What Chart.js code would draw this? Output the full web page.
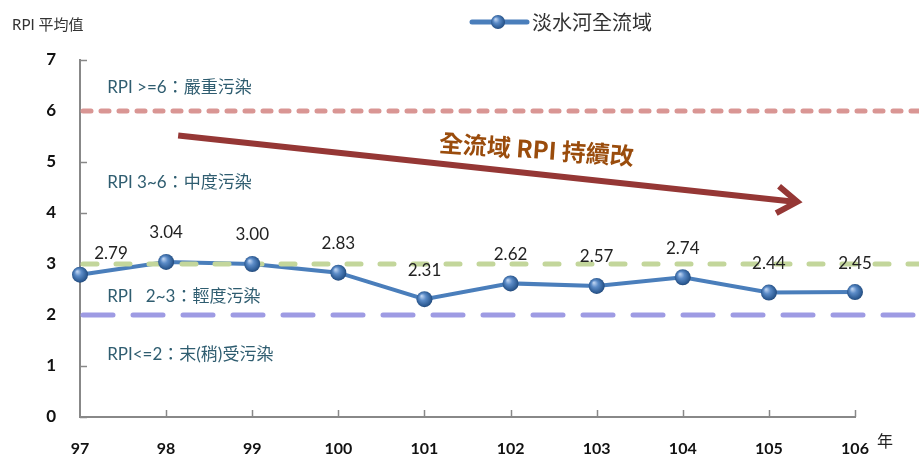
<!DOCTYPE html>
<html>
<head>
<meta charset="utf-8">
<script src="https://cdn.jsdelivr.net/npm/chart.js@4.4.0/dist/chart.umd.min.js"></script>
<style>
  html, body { margin: 0; padding: 0; background: #fff; }
  #wrap { width: 919px; height: 456px; }
</style>
</head>
<body>
<div id="wrap"><canvas id="rpiChart" width="919" height="456"></canvas></div>
<script>
// ---- data ----
const years = ['97', '98', '99', '100', '101', '102', '103', '104', '105', '106'];
const rpiValues = [2.79, 3.04, 3.00, 2.83, 2.31, 2.62, 2.57, 2.74, 2.44, 2.45];
const yTicks = [0, 1, 2, 3, 4, 5, 6, 7];
const seriesName = '淡水河全流域';

// pollution level thresholds and their captions
const levelValues = [6, 3, 2];
const levelColors = ['#d99694', '#c3d69b', '#9e9be3'];
const levelDashes = [[8, 10], [14, 19], [30, 20]];
const bandTexts = ['RPI >=6：嚴重污染', 'RPI 3~6：中度污染', 'RPI   2~3：輕度污染', 'RPI<=2：末(稍)受污染'];
const bandTextAt = [6.47, 4.59, 2.37, 1.22];

const FONT = "Lato, 'Noto Sans CJK TC', sans-serif";
const CJK = "'Noto Sans CJK TC', 'Noto Sans CJK SC', sans-serif";

function drawSphere(ctx, x, y, r) {
    const g = ctx.createRadialGradient(x - r * 0.35, y - r * 0.4, 0.5, x, y, r + 1);
    g.addColorStop(0, '#b9d0ef');
    g.addColorStop(0.35, '#5b8bc7');
    g.addColorStop(0.8, '#2c5a92');
    g.addColorStop(1, '#1d3c66');
    ctx.beginPath();
    ctx.arc(x, y, r, 0, Math.PI * 2);
    ctx.fillStyle = g;
    ctx.fill();
}

const extras = {
    id: 'extras',
    afterDatasetsDraw(chart) {
        const ctx = chart.ctx;
        const xs = chart.scales.x, ys = chart.scales.y;
        const area = chart.chartArea;
        ctx.save();

        // inner tick marks
        ctx.strokeStyle = '#888';
        ctx.lineWidth = 1.5;
        yTicks.forEach(v => {
            const py = Math.round(ys.getPixelForValue(v)) + 0.5;
            ctx.beginPath(); ctx.moveTo(area.left, py); ctx.lineTo(area.left + 7, py); ctx.stroke();
        });
        years.forEach((y, i) => {
            if (i === 0) return;
            const px = Math.round(xs.getPixelForValue(i)) + 0.5;
            ctx.beginPath(); ctx.moveTo(px, area.bottom); ctx.lineTo(px, area.bottom - 7); ctx.stroke();
        });

        // threshold lines, running out to the canvas edge
        levelValues.forEach((v, i) => {
            const py = ys.getPixelForValue(v);
            ctx.beginPath();
            ctx.setLineDash(levelDashes[i]);
            ctx.lineCap = 'round';
            ctx.lineWidth = 5;
            ctx.strokeStyle = levelColors[i];
            ctx.moveTo(area.left + 3, py);
            ctx.lineTo(chart.width + 10, py);
            ctx.stroke();
        });
        ctx.setLineDash([]);
        ctx.lineCap = 'butt';

        // markers
        const meta = chart.getDatasetMeta(0);
        meta.data.forEach(pt => drawSphere(ctx, pt.x, pt.y, 8));

        // value labels
        ctx.font = '17px ' + FONT;
        ctx.fillStyle = '#222';
        ctx.textAlign = 'center';
        ctx.textBaseline = 'middle';
        meta.data.forEach((pt, i) => {
            const dx = i === 0 ? 31 : 0;
            const dy = i === 0 ? -21 : -29;
            ctx.fillText(rpiValues[i].toFixed(2), pt.x + dx, pt.y + dy);
        });

        // band captions
        ctx.font = '17px ' + FONT;
        ctx.fillStyle = '#2f5d70';
        ctx.textAlign = 'left';
        bandTexts.forEach((t, i) => {
            ctx.fillText(t, xs.getPixelForValue(0.315), ys.getPixelForValue(bandTextAt[i]));
        });

        // trend arrow
        const x0 = xs.getPixelForValue(1.14), y0 = ys.getPixelForValue(5.52);
        const x1 = xs.getPixelForValue(8.33), y1 = ys.getPixelForValue(4.22);
        const ang = Math.atan2(y1 - y0, x1 - x0);
        ctx.strokeStyle = '#953735';
        ctx.lineWidth = 6;
        ctx.beginPath(); ctx.moveTo(x0, y0); ctx.lineTo(x1 - 3, y1); ctx.stroke();
        ctx.lineJoin = 'miter';
        ctx.beginPath();
        ctx.moveTo(x1 - 24 * Math.cos(ang - 0.6), y1 - 24 * Math.sin(ang - 0.6));
        ctx.lineTo(x1, y1);
        ctx.lineTo(x1 - 24 * Math.cos(ang + 0.6), y1 - 24 * Math.sin(ang + 0.6));
        ctx.stroke();

        // trend caption
        ctx.save();
        ctx.translate(xs.getPixelForValue(5.3), ys.getPixelForValue(5.25));
        ctx.rotate(0.07);
        ctx.font = 'bold 24px ' + CJK;
        ctx.fillStyle = '#9a4c0c';
        ctx.textAlign = 'center';
        ctx.fillText('全流域 RPI 持續改', 0, 0);
        ctx.restore();

        // axis title, unit and legend
        ctx.textAlign = 'left';
        ctx.fillStyle = '#333';
        ctx.font = '15px ' + FONT;
        ctx.fillText('RPI 平均值', 12, 25);
        ctx.font = '16px ' + CJK;
        ctx.fillStyle = '#222';
        ctx.fillText('年', area.right + 22, 441);

        ctx.strokeStyle = '#4a7ebb';
        ctx.lineWidth = 5;
        ctx.lineCap = 'round';
        ctx.beginPath(); ctx.moveTo(472, 22); ctx.lineTo(527, 22); ctx.stroke();
        drawSphere(ctx, 498, 22, 7);
        ctx.font = '20px ' + CJK;
        ctx.fillStyle = '#333';
        ctx.fillText(seriesName, 532, 22);

        ctx.restore();
    }
};

new Chart(document.getElementById('rpiChart'), {
    type: 'line',
    data: {
        labels: years,
        datasets: [{
            label: seriesName,
            data: rpiValues,
            borderColor: '#4a7ebb',
            borderWidth: 4,
            pointRadius: 0,
            tension: 0
        }]
    },
    options: {
        responsive: false,
        animation: false,
        devicePixelRatio: 1,
        layout: { padding: { top: 60, right: 64, bottom: 0, left: 0 } },
        plugins: { legend: { display: false }, tooltip: { enabled: false } },
        scales: {
            x: {
                offset: false,
                grid: { display: false },
                border: { display: true, color: '#888', width: 2 },
                ticks: { color: '#111', font: { size: 16, weight: 'bold', family: FONT }, padding: 14, maxRotation: 0, autoSkip: false },
                afterFit: s => { s.height = 39; }
            },
            y: {
                min: 0,
                max: 7,
                grid: { display: false },
                border: { display: true, color: '#888', width: 2 },
                ticks: { stepSize: 1, color: '#111', font: { size: 17, weight: 'bold', family: FONT }, padding: 16 },
                afterFit: s => { s.width = 80; }
            }
        }
    },
    plugins: [extras]
});
</script>
</body>
</html>
